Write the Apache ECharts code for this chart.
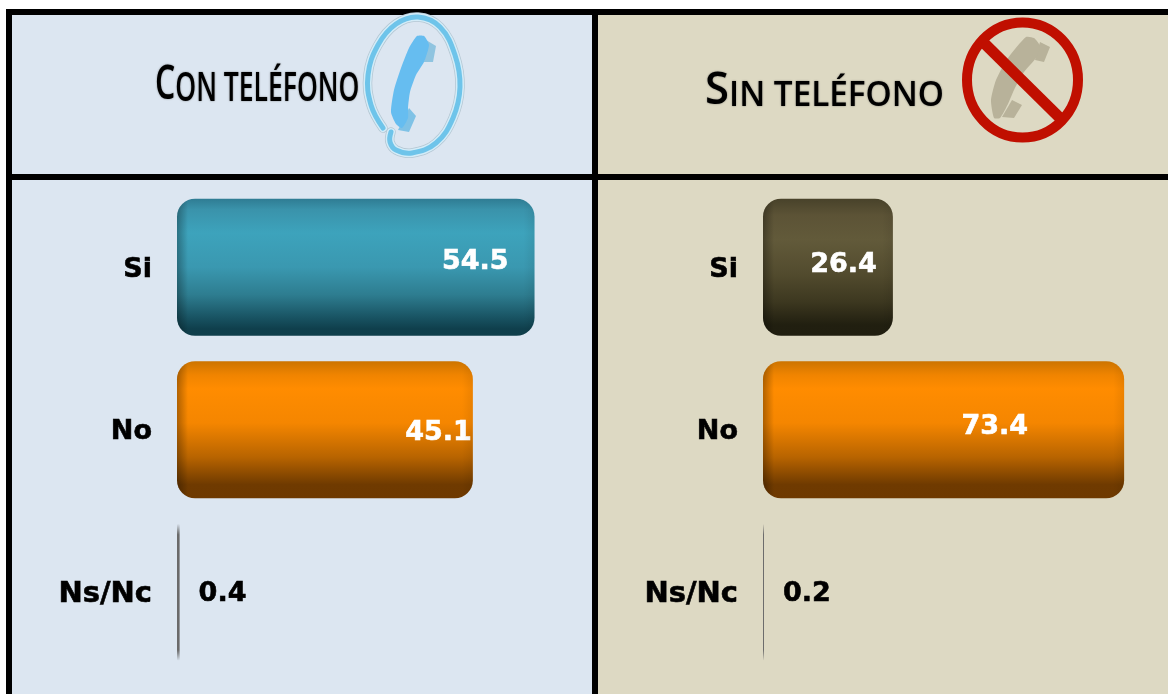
<!DOCTYPE html>
<html>
<head>
<meta charset="utf-8">
<style>
  html, body { margin: 0; padding: 0; background: #fff; }
  #main { width: 1168px; height: 694px; }
</style>
<script src="https://cdn.jsdelivr.net/npm/echarts@6/dist/echarts.min.js"></script>
</head>
<body>
<div id="main"></div>
<script>
var categories = ['Si', 'No', 'Ns/Nc'];
var conTelefono = [54.5, 45.1, 0.4];
var sinTelefono = [26.4, 73.4, 0.2];

// label nudges, the labels sit by hand in the original
var conShift = [[-26, -5.5], [-1, 3], [0, 2]];
var sinShift = [[-16, -2.5], [-96, -2.5], [0, 2]];

var BAR_H = 137;
var FONT = '"DejaVu Sans", Verdana, sans-serif';

function vGrad(stops) {
  return new echarts.graphic.LinearGradient(0, 0, 0, 1, stops.map(function (s) {
    return { offset: s[0], color: s[1] };
  }));
}

var teal = [[0, '#2f7c93'], [0.08, '#3a93ab'], [0.25, '#3da3bc'], [0.5, '#3a98b0'], [0.7, '#2e7d90'], [0.88, '#17505f'], [0.95, '#0f3f4c'], [1, '#103f4b']];
var olive = [[0, '#48422a'], [0.12, '#5c5336'], [0.3, '#625a3a'], [0.55, '#524b2e'], [0.75, '#3d3820'], [0.92, '#211f10'], [1, '#201e10']];
var orange = [[0, '#cc7400'], [0.1, '#f08400'], [0.2, '#ff8c00'], [0.45, '#f58600'], [0.7, '#b86400'], [0.9, '#6f3a00'], [1, '#6e3900']];
var thin = [[0, 'rgba(90,90,90,0)'], [0.08, '#6a6a6a'], [0.92, '#6a6a6a'], [1, 'rgba(90,90,90,0)']];

function barData(values, firstColor, shift) {
  return values.map(function (v, i) {
    var small = i === 2;
    return {
      value: v,
      itemStyle: {
        color: vGrad(small ? thin : i === 0 ? firstColor : orange),
        borderRadius: 18
      },
      label: small ? {
        position: 'right', distance: 19, color: '#000', textBorderColor: '#000', textBorderWidth: 0.6, offset: shift[i]
      } : {
        position: 'insideRight', distance: 0, color: '#fff', textBorderColor: '#fff', textBorderWidth: 0.6, offset: shift[i]
      }
    };
  });
}

// darker rim on the sides of the big bars
function renderBevel(params, api) {
  var v = api.value(0);
  var end = api.coord([v, api.value(1)]);
  var start = api.coord([0, api.value(1)]);
  var w = end[0] - start[0];
  if (w < 20) return;
  var px = 11 / w;
  return {
    type: 'rect',
    silent: true,
    shape: { x: start[0], y: end[1] - BAR_H / 2, width: w, height: BAR_H, r: 18 },
    style: {
      fill: new echarts.graphic.LinearGradient(0, 0, 1, 0, [
        { offset: 0, color: 'rgba(0,0,0,0.3)' },
        { offset: px, color: 'rgba(0,0,0,0)' },
        { offset: 1 - px, color: 'rgba(0,0,0,0)' },
        { offset: 1, color: 'rgba(0,0,0,0.07)' }
      ])
    }
  };
}

function bevelData(values) {
  return values.map(function (v, i) { return [v, i]; });
}

function barSeries(name, idx, values, color, shift) {
  return {
    name: name,
    type: 'bar',
    xAxisIndex: idx,
    yAxisIndex: idx,
    barWidth: BAR_H,
    silent: true,
    label: {
      show: true,
      fontFamily: FONT,
      fontWeight: 'bold',
      fontSize: 27,
      formatter: function (p) { return p.value.toFixed(1); }
    },
    data: barData(values, color, shift)
  };
}

function bevelSeries(idx, values) {
  return {
    type: 'custom',
    xAxisIndex: idx,
    yAxisIndex: idx,
    silent: true,
    z: 3,
    renderItem: renderBevel,
    data: bevelData(values)
  };
}

function yAxis(idx) {
  var rich = {
    s: { fontFamily: FONT, fontWeight: 'bold', fontSize: 27, color: '#000', textBorderColor: '#000', textBorderWidth: 0.6, padding: [5, 0, 0, 0] },
    w: { fontFamily: FONT, fontWeight: 'bold', fontSize: 29, color: '#000', textBorderColor: '#000', textBorderWidth: 0.6, padding: [5, 0, 0, 0] }
  };
  return {
    type: 'category',
    gridIndex: idx,
    inverse: true,
    data: categories,
    axisLine: { show: false },
    axisTick: { show: false },
    axisLabel: {
      margin: 25,
      formatter: function (name) {
        return (name.length > 2 ? '{w|' : '{s|') + name + '}';
      },
      rich: rich
    }
  };
}

function xAxis(idx, max) {
  return { type: 'value', gridIndex: idx, min: 0, max: max, show: false };
}

function box(x, y, w, h, fill) {
  return { type: 'rect', z: -10, shape: { x: x, y: y, width: w, height: h }, style: { fill: fill } };
}

function heading(big, rest, x, y, sx, bigSize, smallSize) {
  return {
    type: 'text',
    z: 5,
    x: x,
    y: y,
    scaleX: sx,
    style: {
      text: '{a|' + big + '}{b|' + rest + '}',
      rich: {
        a: { fontFamily: '"Open Sans"', fontSize: bigSize, fontWeight: 600, fill: '#000', lineHeight: 50, verticalAlign: 'bottom' },
        b: { fontFamily: '"Open Sans"', fontSize: smallSize, fontWeight: 600, fill: '#000', lineHeight: 50, verticalAlign: 'bottom' }
      },
      textShadowColor: 'rgba(60,60,60,0.6)',
      textShadowBlur: 2
    }
  };
}

function curve(points, color, width) {
  return {
    type: 'polyline', z: 4,
    shape: { points: points, smooth: 0.4 },
    style: { fill: null, stroke: color, lineWidth: width, lineCap: 'round' }
  };
}

function blob(points, color, smooth) {
  return {
    type: 'polygon', z: 4,
    shape: { points: points, smooth: smooth },
    style: { fill: color }
  };
}

var ringBlue = [[383, 128], [371, 105], [368, 75], [378, 45], [396, 24], [418, 17], [440, 27], [455, 55], [460, 87], [453, 118], [436, 143], [412, 153], [396, 150], [390, 142], [391, 132]];
var handBlue = [[417, 36], [424, 36], [429, 45], [424, 62], [416, 75], [410, 92], [408, 108], [408, 118], [402, 128], [396, 124], [391, 112], [394, 90], [401, 68], [409, 48]];
var earBlue = [[426, 40], [436, 46], [433, 62], [424, 62]];
var mouthBlue = [[409, 108], [416, 116], [409, 132], [398, 130]];

var handTan = [[1026, 37], [1034, 38], [1040, 46], [1036, 58], [1024, 72], [1014, 90], [1008, 104], [1000, 118], [994, 118], [991, 100], [996, 80], [1008, 58]];
var earTan = [[1040, 42], [1050, 47], [1044, 62], [1035, 60]];
var mouthTan = [[1012, 100], [1022, 105], [1014, 118], [1002, 117]];

var chart = echarts.init(document.getElementById('main'), null, { renderer: 'canvas' });

chart.setOption({
  animation: false,
  backgroundColor: '#fff',
  grid: [
    { left: 177, top: 186, width: 393.6, height: 487.5 },
    { left: 763, top: 186, width: 393.6, height: 487.5 }
  ],
  xAxis: [xAxis(0, 60), xAxis(1, 80)],
  yAxis: [yAxis(0), yAxis(1)],
  series: [
    barSeries('Con teléfono', 0, conTelefono, teal, conShift),
    barSeries('Sin teléfono', 1, sinTelefono, olive, sinShift),
    bevelSeries(0, conTelefono),
    bevelSeries(1, sinTelefono)
  ],
  graphic: [
    box(6, 9, 1162, 685, '#000'),
    box(12, 15, 580, 159, '#dce6f1'),
    box(12, 180, 580, 514, '#dce6f1'),
    box(598, 15, 570, 159, '#ddd9c3'),
    box(598, 180, 570, 514, '#ddd9c3'),

    heading('C', 'ON TELÉFONO', 155, 59, 0.68, 47, 39),
    curve(ringBlue, '#b4c6d2', 9.5),
    curve(ringBlue, '#d3ecf8', 8),
    curve(ringBlue, '#6ec4ea', 5),
    blob(earBlue, '#8fc4e0', 0),
    blob(mouthBlue, '#7fc2e6', 0),
    blob(handBlue, '#66bdf0', 0.2),

    heading('S', 'IN TELÉFONO', 705, 64, 0.95, 46, 35),
    blob(earTan, '#b8b29a', 0),
    blob(mouthTan, '#b8b29a', 0),
    blob(handTan, '#b8b29a', 0.2),
    {
      type: 'ellipse', z: 4,
      shape: { cx: 1022.5, cy: 80, rx: 55.5, ry: 57.5 },
      style: { fill: null, stroke: '#c00f00', lineWidth: 10 }
    },
    {
      type: 'line', z: 4,
      shape: { x1: 983, y1: 42, x2: 1062, y2: 120 },
      style: { stroke: '#c00f00', lineWidth: 11 }
    }
  ]
});
</script>
</body>
</html>
